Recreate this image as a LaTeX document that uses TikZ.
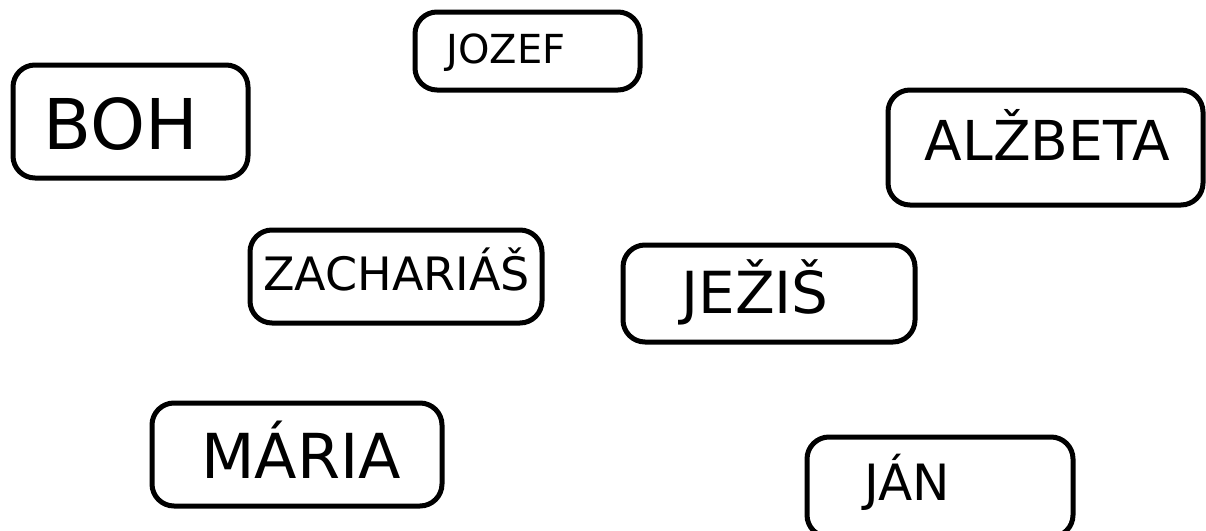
\documentclass[tikz,border=0pt]{standalone}
\usepackage{fontspec}
\setmainfont{DejaVu Sans}
\newcommand{\fsz}[1]{\fontsize{#1}{#1}\selectfont}
\begin{document}
\begin{tikzpicture}[x=1pt,y=-1pt,line width=5pt,
  box/.style={draw,rounded corners=22pt,inner sep=0pt},
  lbl/.style={anchor=base,inner sep=0pt}]
  \useasboundingbox (0,0) rectangle (1206,530);
  % boxes
  \node[box,minimum width=235pt,minimum height=113pt] (boh) at (130.5,121.5) {};
  \node[box,minimum width=225pt,minimum height=78pt] (jozef) at (527.5,51) {};
  \node[box,minimum width=315pt,minimum height=115pt] (alzbeta) at (1045.5,147.5) {};
  \node[box,minimum width=292pt,minimum height=93pt] (zachariasb) at (396,276.5) {};
  \node[box,minimum width=292pt,minimum height=97pt] (jezisb) at (769,293.5) {};
  \node[box,minimum width=290pt,minimum height=103pt] (mariab) at (297,454.5) {};
  \node[box,minimum width=266pt,minimum height=100pt] (janb) at (940,487) {};
  % names
  \node[lbl,font=\fsz{70}] (bohtxt) at (121,149) {BOH};
  \node[lbl,font=\fsz{40}] (jozeftxt) at (506,63) {JOZEF};
  \node[lbl,font=\fsz{55}] (alzbetatxt) at (1047.5,160) {ALŽBETA};
  \node[lbl,font=\fsz{46}] (zachariastxt) at (396.5,290) {ZACHARIÁŠ};
  \node[lbl,font=\fsz{58}] (jezistxt) at (755,313) {JEŽIŠ};
  \node[lbl,font=\fsz{62}] (mariatxt) at (301,478) {MÁRIA};
  \node[lbl,font=\fsz{50}] (jantxt) at (907.5,500) {JÁN};
\end{tikzpicture}
\end{document}
